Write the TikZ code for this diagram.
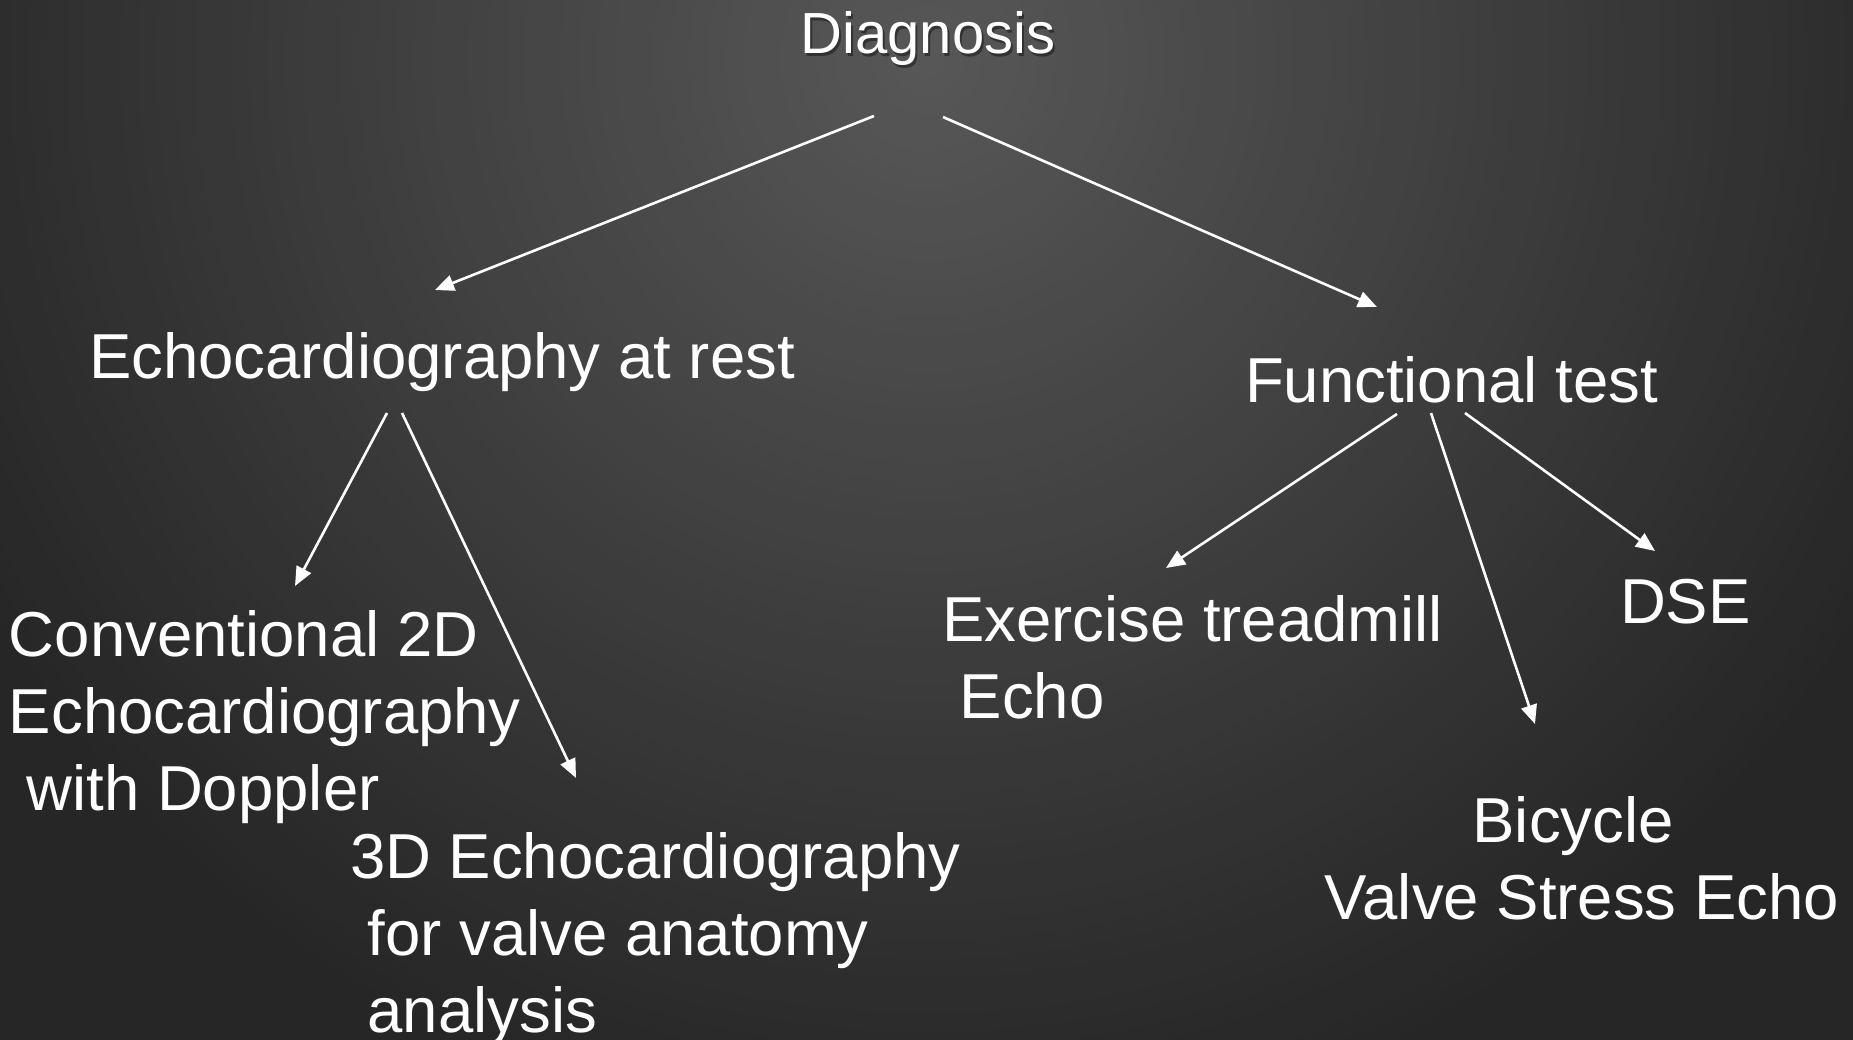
\documentclass[tikz,border=0pt]{standalone}
\usepackage{fontspec}
\setmainfont{Liberation Sans}
\usetikzlibrary{arrows.meta}

\definecolor{glowin}{HTML}{575757}
\definecolor{glowout}{HTML}{262626}

\tikzset{
  label text/.style={text=white, inner sep=0pt, outer sep=0pt,
    font=\fontsize{63.5pt}{77pt}\selectfont},
  title text/.style={text=white, inner sep=0pt, outer sep=0pt,
    font=\fontsize{58pt}{70pt}\selectfont},
  link/.style={draw=white, line width=2.6pt,
    -{Triangle[length=19pt,width=16pt]}},
}

\begin{document}
\begin{tikzpicture}[x=1pt,y=-1pt]
  % slide background: dark, with a soft glow near the top centre
  \useasboundingbox (0,0) rectangle (1853,1040);
  \begin{scope}
    \clip (0,0) rectangle (1853,1040);
    \fill[glowout] (0,0) rectangle (1853,1040);
    \foreach \i in {0,...,59}{
      \pgfmathsetmacro{\rad}{1100*(1-\i/60)}
      \pgfmathsetmacro{\mix}{100*\i/59}
      \fill[glowin!\mix!glowout] (927,60) circle (\rad);
    }
  \end{scope}

  % title with its drop shadow
  \node[title text, text=black, opacity=0.4, anchor=base] (diagshadow) at (930,56.5) {Diagnosis};
  \node[title text, anchor=base] (diag) at (928,54) {Diagnosis};

  % second level
  \node[label text, anchor=base west] (rest) at (89,379) {Echocardiography at rest};
  \node[label text, anchor=base west] (func) at (1245,403) {Functional test};

  % leaves (the base of a multi-line node is its last line)
  \node[label text, anchor=base west, align=left] (conv) at (9,810)
    {Conventional 2D\\Echocardiography\\\hspace*{0.278em}with Doppler};
  \node[label text, anchor=base west, align=left] (threed) at (350,1032)
    {3D Echocardiography\\\hspace*{0.278em}for valve anatomy\\\hspace*{0.278em}analysis};
  \node[label text, anchor=base west, align=left] (exer) at (942,718)
    {Exercise treadmill\\\hspace*{0.278em}Echo};
  \node[label text, anchor=base west] (dse) at (1620,623) {DSE};
  \node[label text, anchor=base, align=center] (bike) at (1582,919)
    {Bicycle\hspace*{0.278em}\\Valve Stress Echo};

  % connector ends
  \coordinate (diag-l) at (874,116);
  \coordinate (diag-r) at (943,117);
  \coordinate (rest-in) at (435,290);
  \coordinate (func-in) at (1377,307);
  \coordinate (rest-l) at (387,413);
  \coordinate (rest-r) at (402,413);
  \coordinate (conv-in) at (295,586);
  \coordinate (threed-in) at (576,778);
  \coordinate (func-l) at (1397,414);
  \coordinate (func-m) at (1431,413);
  \coordinate (func-r) at (1465,413);
  \coordinate (exer-in) at (1166,568);
  \coordinate (bike-in) at (1535,724);
  \coordinate (dse-in) at (1655,551);

  % connectors
  \draw[link] (diag-l) -- (rest-in);
  \draw[link] (diag-r) -- (func-in);
  \draw[link] (rest-l) -- (conv-in);
  \draw[link] (rest-r) -- (threed-in);
  \draw[link] (func-l) -- (exer-in);
  \draw[link] (func-m) -- (bike-in);
  \draw[link] (func-r) -- (dse-in);
\end{tikzpicture}
\end{document}
